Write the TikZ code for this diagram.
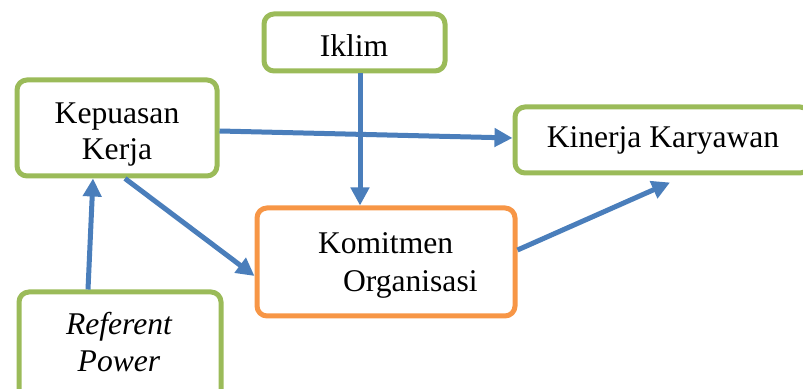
\documentclass[tikz,border=0pt]{standalone}
\usepackage{fontspec}
\setmainfont{Liberation Serif}
\usetikzlibrary{arrows.meta}
\definecolor{boxgreen}{HTML}{9BBB59}
\definecolor{boxorange}{HTML}{F79646}
\definecolor{arrblue}{HTML}{4A7EBB}
\begin{document}
\begin{tikzpicture}[x=0.5pt,y=-0.5pt,
  font=\fontsize{15.8}{18}\selectfont,
  box/.style={draw=boxgreen, rounded corners=5pt, line width=2.5pt, inner sep=0pt},
  obox/.style={box, draw=boxorange},
  txt/.style={inner sep=0pt, outer sep=0pt},
  arr/.style={draw=arrblue, line width=2.5pt, -{Triangle[length=9pt,width=9pt]}}]
\clip (0,0) rectangle (803,389);
% boxes
\node[box, minimum width=90.5pt, minimum height=28.5pt] (iklim) at (354.5,42.5) {};
\node[box, minimum width=100pt, minimum height=48pt] (kep) at (117,128) {};
\node[box, minimum width=147.5pt, minimum height=33pt] (kin) at (662.5,140) {};
\node[obox, minimum width=129pt, minimum height=54pt] (kom) at (386,262) {};
\node[box, minimum width=101pt, minimum height=54pt] (ref) at (120,346) {};
% texts
\node[txt, anchor=base] (iklimt) at (354,57) {Iklim};
\node[txt, anchor=base, align=center] (kept) at (117,160) {Kepuasan\\Kerja};
\node[txt, anchor=base] (kint) at (663,148) {Kinerja Karyawan};
\node[txt, anchor=base west, align=left, font=\fontsize{15.8}{19}\selectfont] (komt) at (318,292) {Komitmen\\\hspace*{12.5pt}Organisasi};
\node[txt, anchor=base, align=center, font=\fontsize{15.8}{18.5}\selectfont\itshape] (reft) at (119,372) {Referent\\Power};
% connectors
\draw[arr] ([xshift=2.75pt]iklim.south) -- ([xshift=-13pt]kom.north);
\draw[arr] ([yshift=-1.5pt]kep.east) -- ([yshift=1pt]kin.west);
\draw[arr] ([xshift=4pt]kep.south) -- ([yshift=-7pt]kom.west);
\draw[arr] ([xshift=-16pt]ref.north) -- ([xshift=-12pt]kep.south);
\draw[arr] ([yshift=6pt]kom.east) -- ([xshift=3.75pt,yshift=-3.5pt]kin.south);
\end{tikzpicture}
\end{document}
